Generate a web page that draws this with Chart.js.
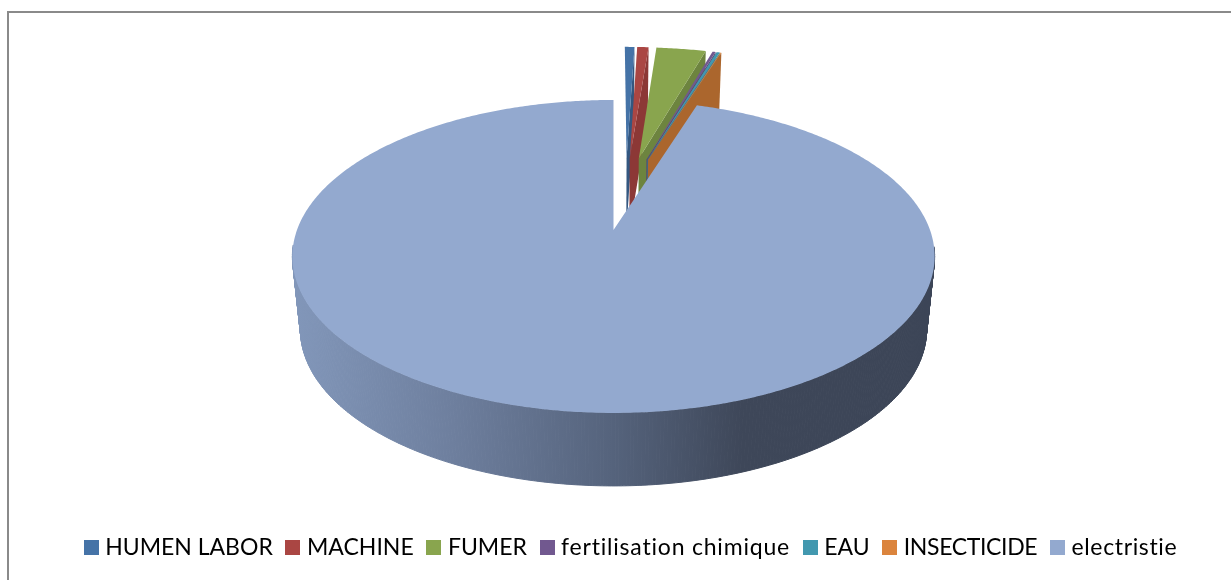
<!DOCTYPE html>
<html lang="fr">
<head>
  <meta charset="utf-8" />
  <title>Pie 3D</title>
  <style>
html, body { margin: 0; padding: 0; background: #fff; overflow: hidden; }
#chartContainer { position: absolute; left: 0; top: 0; width: 1231px; height: 580px; }
#frame { position: absolute; left: 7px; top: 11px; width: 1300px; height: 700px; border: 2px solid #8a8a8a; box-sizing: border-box; }
  </style>
</head>
<body>
  <div id="frame"></div>
  <div id="chartContainer">
    <canvas id="myChart"></canvas>
  </div>
  <script src="https://cdn.jsdelivr.net/npm/chart.js"></script>
  <script>

const categories = ['HUMEN LABOR', 'MACHINE', 'FUMER', 'fertilisation chimique', 'EAU', 'INSECTICIDE', 'electristie'];
const values = [0.61, 0.72, 3.14, 0.2, 0.22, 0.06, 95.05];
const sliceColors = ['#4573a7', '#aa4643', '#89a54e', '#71588f', '#4298af', '#db843d', '#93a9cf'];
const wallColors = ['#345780', '#8c3836', '#6d843f', '#5a4672', '#33788c', '#ab662d', '#5b6a85'];

// Lato is a bit narrow for the lowercase labels
const legendTracking = { 'fertilisation chimique': '0.8px', 'INSECTICIDE': '-0.35px', 'electristie': '0.65px' };

// 3D look: disc coordinates are mapped to the screen with a perspective projection
const view = { x: 613.5, y: 230, sx: 316.5, sy: 152, k: 0.169, depth: 73, shrink: 0.975, explode: 0.258 };

function project(u, v, low) {
  const w = 1 - view.k * v;
  let px = view.x + view.sx * u / w;
  let py = view.y + view.sy * v / w;
  if (low) {
    px = view.x + (px - view.x) * view.shrink;
    py += view.depth;
  }
  return [px, py];
}

function tracePath(ctx, pts) {
  ctx.beginPath();
  pts.forEach((p, i) => i ? ctx.lineTo(p[0], p[1]) : ctx.moveTo(p[0], p[1]));
  ctx.closePath();
}

// every slice is pulled out of the pie, the view is anchored on the tip of the big one
function pieOffset() {
  const total = values.reduce((a, b) => a + b, 0);
  const mid = 2 * Math.PI * (1 - values[values.length - 1] / total / 2) - Math.PI / 2;
  return [-view.explode * Math.cos(mid), -view.explode * Math.sin(mid)];
}

// replaces the flat drawing of the arcs, angles still come from the pie controller
Chart.ArcElement.prototype.draw = function (ctx) {
  const a = this.getProps(['startAngle', 'endAngle']);
  const mid = (a.startAngle + a.endAngle) / 2;
  const off = pieOffset();
  const disc = (angle, r) => [
    off[0] + view.explode * Math.cos(mid) + r * Math.cos(angle),
    off[1] + view.explode * Math.sin(mid) + r * Math.sin(angle)
  ];
  const apex = disc(0, 0);
  const rim = [];
  const n = Math.max(2, Math.ceil((a.endAngle - a.startAngle) / 0.01));
  for (let i = 0; i <= n; i++) {
    rim.push(disc(a.startAngle + (a.endAngle - a.startAngle) * i / n, 1));
  }
  const top = q => project(q[0], q[1], false);
  const low = q => project(q[0], q[1], true);
  const big = (a.endAngle - a.startAngle) > Math.PI;

  if (big) {
    // outer wall of the big slice, shaded from left to right, front part only
    const g = ctx.createLinearGradient(view.x - 322, 0, view.x + 322, 0);
    g.addColorStop(0, '#8297ba');
    g.addColorStop(0.25, '#6e7f9e');
    g.addColorStop(0.5, '#55637c');
    g.addColorStop(0.7, '#3e4759');
    g.addColorStop(1, '#3c4557');
    ctx.fillStyle = g;
    ctx.strokeStyle = g;
    ctx.lineWidth = 1;
    for (let i = 0; i < n; i++) {
      if (rim[i][1] < 0.1) continue;
      tracePath(ctx, [top(rim[i]), top(rim[i + 1]), low(rim[i + 1]), low(rim[i])]);
      ctx.fill();
      ctx.stroke();
    }
  } else {
    // cut face at the end of the small slice
    const last = rim[n];
    ctx.fillStyle = wallColors[this.$context.dataIndex];
    tracePath(ctx, [top(apex), top(last), low(last), low(apex)]);
    ctx.fill();
  }

  ctx.fillStyle = this.options.backgroundColor;
  tracePath(ctx, [apex].concat(rim).map(top));
  ctx.fill();
};

function legendSquare(color) {
  const c = document.createElement('canvas');
  c.width = 15;
  c.height = 15;
  const cx = c.getContext('2d');
  cx.fillStyle = color;
  cx.fillRect(0, 0, 15, 15);
  return c;
}

const trackingPlugin = {
  id: 'tracking',
  beforeInit(chart) {
    const ctx = chart.ctx;
    const measure = ctx.measureText;
    const fill = ctx.fillText;
    ctx.measureText = function (t) {
      this.letterSpacing = legendTracking[t] || '0px';
      return measure.call(this, t);
    };
    ctx.fillText = function (t, x, y, m) {
      this.letterSpacing = legendTracking[t] || '0px';
      return m === undefined ? fill.call(this, t, x, y) : fill.call(this, t, x, y, m);
    };
  }
};

const config = {
  type: 'pie',
  data: {
    labels: categories,
    datasets: [{
      data: values,
      backgroundColor: sliceColors,
      borderWidth: 0
    }]
  },
  plugins: [trackingPlugin],
  options: {
    responsive: true,
    maintainAspectRatio: false,
    animation: false,
    layout: { padding: { bottom: 11, left: 35 } },
    plugins: {
      tooltip: { enabled: false },
      legend: {
        position: 'bottom',
        labels: {
          color: '#000',
          usePointStyle: true,
          pointStyleWidth: 5,
          padding: 17.7,
          font: { family: 'Lato', size: 23 },
          generateLabels: function () {
            return categories.map((name, i) => ({
              text: name,
              index: i,
              pointStyle: legendSquare(sliceColors[i]),
              fontColor: '#000',
              lineWidth: 0
            }));
          }
        }
      }
    }
  }
};
new Chart(document.getElementById('myChart'), config);

  </script>
</body>
</html>
